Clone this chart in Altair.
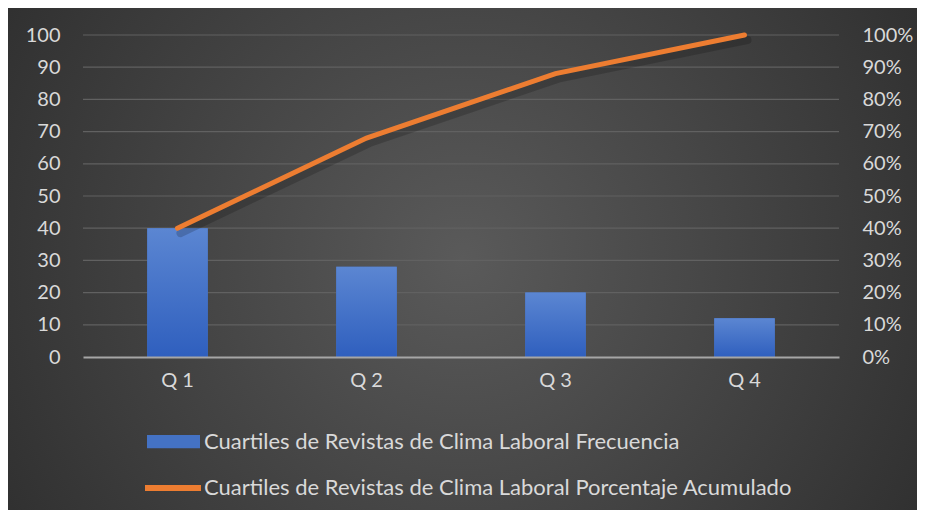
import altair as alt
import pandas as pd

quartiles = ["Q 1", "Q 2", "Q 3", "Q 4"]
frecuencia = [40, 28, 20, 12]
acumulado = [0.40, 0.68, 0.88, 1.00]
series = [
    "Cuartiles de Revistas de Clima Laboral Frecuencia",
    "Cuartiles de Revistas de Clima Laboral Porcentaje Acumulado",
]
left_ticks = list(range(0, 101, 10))
right_ticks = [i / 10 for i in range(0, 11)]

df = pd.DataFrame({"q": quartiles, "f": frecuencia, "a": acumulado,
                   "s1": series[0], "s2": series[1]})
grid_df = pd.DataFrame({"f": left_ticks[1:]})

W, H = 756, 322
PL, PT, PR, PB = 75, 27, 78, 153
FONT = "Lato"
TXT = "#d9d9d9"
FS = 20
LFS = 22

x = alt.X("q:N", sort=quartiles,
          scale=alt.Scale(paddingInner=0.68, paddingOuter=0.34),
          axis=alt.Axis(title=None, labelAngle=0, ticks=False,
                        domainColor="#a6a6a6", domainWidth=2,
                        labelPadding=13, labelFontSize=FS, labelColor=TXT,
                        labelFont=FONT, grid=False, zindex=1))

y_left = alt.Y("f:Q", scale=alt.Scale(domain=[0, 100], nice=False),
               axis=alt.Axis(title=None, orient="left", values=left_ticks,
                             grid=False, domain=False, ticks=False,
                             labelPadding=23, zindex=1,
                             labelFontSize=FS, labelColor=TXT, labelFont=FONT))
y_right = alt.Y("a:Q", scale=alt.Scale(domain=[0, 1], nice=False),
                axis=alt.Axis(title=None, orient="right", values=right_ticks,
                              format=".0%", grid=False, domain=False,
                              ticks=False, labelPadding=23, labelFontSize=FS,
                              labelColor=TXT, labelFont=FONT, zindex=1))

bg_grad = {
    "gradient": "radial", "x1": 0.5, "y1": 0.5, "r1": 0,
    "x2": 0.5, "y2": 0.5, "r2": 0.72,
    "stops": [{"offset": 0, "color": "#5a5a5a"},
              {"offset": 1, "color": "#262626"}],
}
bar_grad = {
    "gradient": "linear", "x1": 0, "y1": 0, "x2": 0, "y2": 1,
    "stops": [{"offset": 0, "color": "#5b86d2"},
              {"offset": 1, "color": "#2f5fbe"}],
}

bg = alt.Chart(pd.DataFrame({"k": [0]})).mark_rect(fill=bg_grad).encode(
    x=alt.value(-PL), x2=alt.value(W + PR),
    y=alt.value(-PT), y2=alt.value(H + PB))

grid = alt.Chart(grid_df).mark_rule(color="#616161", strokeWidth=1.2).encode(
    y=y_left, x=alt.value(0), x2=alt.value(W))

bars_legend = alt.Chart(df).mark_bar().encode(
    x=x, y=y_left,
    color=alt.Color("s1:N", scale=alt.Scale(range=["#4472c4"]),
                    legend=alt.Legend(title=None, orient="none",
                                      legendX=64, legendY=380,
                                      symbolType="M-1,-0.25H1V0.25H-1Z",
                                      symbolSize=2809, symbolStrokeWidth=0,
                                      labelFontSize=LFS, labelColor=TXT,
                                      labelFont=FONT, labelLimit=0,
                                      labelOffset=4)))
bars_grad = alt.Chart(df).mark_bar(fill=bar_grad).encode(x=x, y=y_left)

line_shadow = alt.Chart(df).mark_line(
    stroke="black", strokeOpacity=0.18, strokeWidth=8,
    xOffset=3, yOffset=5, strokeCap="round").encode(x=x, y=y_right)
line = alt.Chart(df).mark_line(strokeWidth=5, strokeCap="round").encode(
    x=x, y=y_right,
    color=alt.Color("s2:N", scale=alt.Scale(range=["#ed7d31"]),
                    legend=alt.Legend(title=None, orient="none",
                                      legendX=59, legendY=422,
                                      symbolType="stroke", symbolSize=3136,
                                      symbolStrokeWidth=6,
                                      labelFontSize=LFS, labelColor=TXT,
                                      labelFont=FONT, labelLimit=0,
                                      labelOffset=0)))

chart = alt.layer(
    bg,
    alt.layer(grid, bars_legend, bars_grad),
    alt.layer(line_shadow, line),
).resolve_scale(y="independent", color="independent").properties(
    width=W, height=H,
    autosize=alt.AutoSizeParams(type="none"),
    padding={"left": PL, "top": PT, "right": PR, "bottom": PB},
    background="#3a3a3a",
).configure_view(stroke=None)

chart.save("out.html", embed_options={"renderer": "svg", "actions": False})
